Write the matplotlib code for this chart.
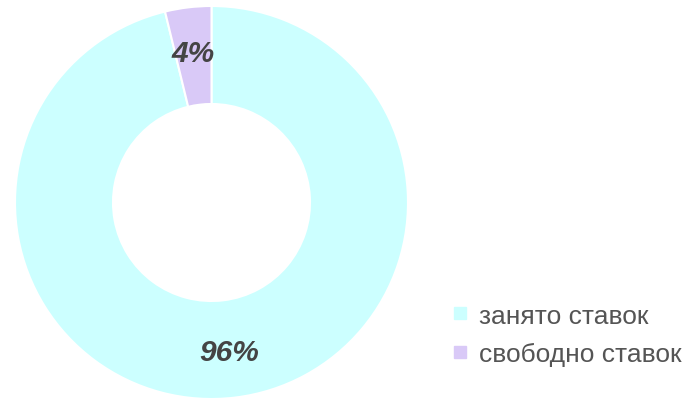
import matplotlib
matplotlib.use("Agg")
import matplotlib.pyplot as plt
from matplotlib.lines import Line2D

labels = ["занято ставок", "свободно ставок"]
values = [96.2, 3.8]
colors = ["#ccffff", "#d9c9f7"]

plt.rcParams["font.family"] = ["Liberation Sans", "DejaVu Sans"]

W, H = 692, 402
fig = plt.figure(figsize=(W / 100, H / 100), dpi=100)
ax = fig.add_axes([0, 0, 1, 1])
cx, cy, R, r = 211.5, 203.5, 196.5, 98.5

wedges, texts = ax.pie(values, colors=colors, radius=R, startangle=90, counterclock=False,
                       center=(0, 0),
                       wedgeprops=dict(width=R - r, linewidth=1.5, edgecolor="white"),
                       labels=[f"{v:.0f}%" for v in values], labeldistance=150.5 / R,
                       textprops=dict(fontsize=21.5, fontweight="bold", fontstyle="italic",
                                      color="#444444", ha="center", va="center"))
ax.set_xlim(-cx, W - cx)
ax.set_ylim(-(H - cy), cy)
ax.set_aspect("equal")
ax.axis("off")

handles = [Line2D([], [], marker="s", ls="", markersize=9, color=c) for c in colors]
leg = fig.legend(handles, labels, loc="center left", bbox_to_anchor=(447 / W, 1 - 336 / H),
                 frameon=False, fontsize=19, labelcolor="#555555", handletextpad=0.2,
                 labelspacing=0.55, handlelength=1.0, borderpad=0, borderaxespad=0)

fig.savefig("out.png", dpi=100)
